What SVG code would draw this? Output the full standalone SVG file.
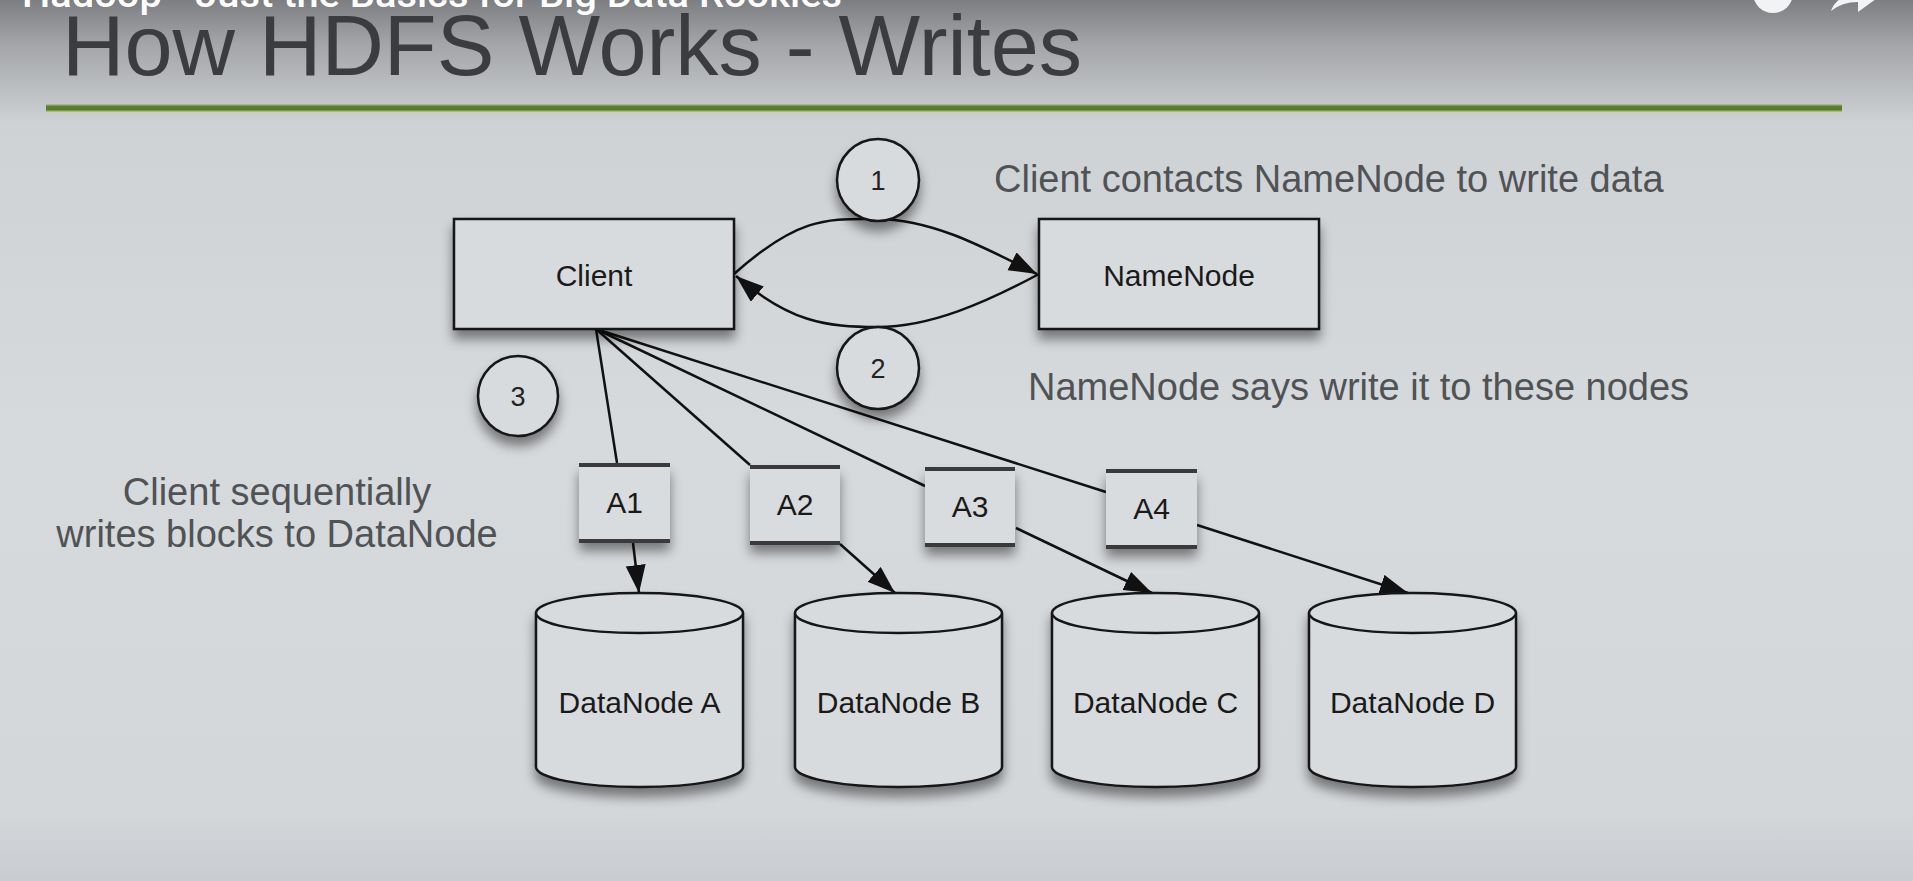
<svg xmlns="http://www.w3.org/2000/svg" width="1913" height="881" viewBox="0 0 1913 881">
<defs>
<linearGradient id="bg" x1="0" y1="0" x2="0" y2="1">
<stop offset="0" stop-color="#7c7e81"/>
<stop offset="0.05" stop-color="#a3a5a8"/>
<stop offset="0.14" stop-color="#cfd2d5"/>
<stop offset="0.5" stop-color="#d7dadd"/>
<stop offset="0.92" stop-color="#d4d7da"/>
<stop offset="1" stop-color="#c9ccd0"/>
</linearGradient>
<linearGradient id="gl" x1="0" y1="0" x2="0" y2="1">
<stop offset="0" stop-color="#b9cc95"/>
<stop offset="0.3" stop-color="#5d7e2f"/>
<stop offset="0.7" stop-color="#5a7a2b"/>
<stop offset="1" stop-color="#b9cc95"/>
</linearGradient>
<filter id="sh" x="-30%" y="-30%" width="160%" height="190%">
<feDropShadow dx="0" dy="9" stdDeviation="6" flood-color="#000" flood-opacity="0.45"/>
</filter>
<marker id="ah" markerUnits="userSpaceOnUse" markerWidth="30" markerHeight="22" refX="28" refY="10" orient="auto">
<path d="M0,0 L28,10 L0,20 Z" fill="#111"/>
</marker>
<style>
.node{fill:#d8dbde;stroke:#151515;stroke-width:2.5}
.blk{fill:#d9dcdf}
.bar{stroke:#3a3a3a;stroke-width:4}
.lbl{font-family:"Liberation Sans",Arial,Helvetica,sans-serif;font-size:30px;fill:#1a1a1a;text-anchor:middle}
.num{font-family:"Liberation Sans",Arial,Helvetica,sans-serif;font-size:27px;fill:#222;text-anchor:middle}
.note{font-family:"Liberation Sans",Arial,Helvetica,sans-serif;font-size:38px;fill:#505356}
.edge{fill:none;stroke:#111;stroke-width:2.5}
</style>
</defs>
<rect x="0" y="0" width="1913" height="881" fill="url(#bg)"/>
<text x="22" y="7" font-family="Roboto,'Liberation Sans',Arial,sans-serif" font-size="36" font-weight="500" fill="#ffffff" textLength="820" lengthAdjust="spacingAndGlyphs">Hadoop - Just the Basics for Big Data Rookies</text>
<circle cx="1773" cy="-7" r="20" fill="#f2f3f4"/>
<path d="M1831,11 Q1836,-4 1856,-6 L1856,-18 L1880,-4 L1858,12 L1858,2 Q1842,2 1831,11 Z" fill="#f2f3f4"/>
<text x="62" y="75" font-family="'Liberation Sans',Arial,Helvetica,sans-serif" font-size="85" fill="#3a3c3f" textLength="1020" lengthAdjust="spacingAndGlyphs">How HDFS Works - Writes</text>
<rect x="46" y="104" width="1796" height="8" fill="url(#gl)"/>

<g id="connectors">
<path class="edge" d="M734,274 C800,215 830,219 876,219 C930,219 980,245 1037,274" marker-end="url(#ah)"/>
<path class="edge" d="M1039,274 C985,303 930,327 878,327 C825,327 790,322 736,276" marker-end="url(#ah)"/>
<line class="edge" x1="596" y1="329" x2="617" y2="463"/>
<line class="edge" x1="596" y1="329" x2="750" y2="465"/>
<line class="edge" x1="596" y1="329" x2="925" y2="486"/>
<line class="edge" x1="596" y1="329" x2="1106" y2="492"/>
<line class="edge" x1="633" y1="543" x2="639" y2="593" marker-end="url(#ah)"/>
<line class="edge" x1="840" y1="544" x2="895" y2="593" marker-end="url(#ah)"/>
<line class="edge" x1="1016" y1="528" x2="1152" y2="593" marker-end="url(#ah)"/>
<line class="edge" x1="1197" y1="525" x2="1408" y2="593" marker-end="url(#ah)"/>
</g>

<g id="client">
<rect class="node" x="454" y="219" width="280" height="110" filter="url(#sh)"/>
<text class="lbl" x="594" y="286">Client</text>
</g>
<g id="namenode">
<rect class="node" x="1039" y="219" width="280" height="110" filter="url(#sh)"/>
<text class="lbl" x="1179" y="286">NameNode</text>
</g>

<g id="step1">
<circle class="node" cx="878" cy="180" r="41" filter="url(#sh)"/>
<text class="num" x="878" y="190">1</text>
</g>
<g id="step2">
<circle class="node" cx="878" cy="368" r="41" filter="url(#sh)"/>
<text class="num" x="878" y="378">2</text>
</g>
<g id="step3">
<circle class="node" cx="518" cy="396" r="40" filter="url(#sh)"/>
<text class="num" x="518" y="406">3</text>
</g>

<g id="note1"><text class="note" x="994" y="192">Client contacts NameNode to write data</text></g>
<g id="note2"><text class="note" x="1028" y="400">NameNode says write it to these nodes</text></g>
<g id="note3"><text class="note" x="277" y="505" text-anchor="middle">Client sequentially</text><text class="note" x="277" y="547" text-anchor="middle">writes blocks to DataNode</text></g>

<g id="a1">
<rect class="blk" x="579" y="464" width="91" height="78" filter="url(#sh)"/>
<line class="bar" x1="579" y1="465" x2="670" y2="465"/><line class="bar" x1="579" y1="541" x2="670" y2="541"/>
<text class="lbl" x="624.5" y="513" font-size="28">A1</text>
</g>
<g id="a2">
<rect class="blk" x="750" y="466" width="90" height="78" filter="url(#sh)"/>
<line class="bar" x1="750" y1="467" x2="840" y2="467"/><line class="bar" x1="750" y1="543" x2="840" y2="543"/>
<text class="lbl" x="795" y="515" font-size="28">A2</text>
</g>
<g id="a3">
<rect class="blk" x="925" y="468" width="90" height="78" filter="url(#sh)"/>
<line class="bar" x1="925" y1="469" x2="1015" y2="469"/><line class="bar" x1="925" y1="545" x2="1015" y2="545"/>
<text class="lbl" x="970" y="517" font-size="28">A3</text>
</g>
<g id="a4">
<rect class="blk" x="1106" y="470" width="91" height="78" filter="url(#sh)"/>
<line class="bar" x1="1106" y1="471" x2="1197" y2="471"/><line class="bar" x1="1106" y1="547" x2="1197" y2="547"/>
<text class="lbl" x="1151.5" y="519" font-size="28">A4</text>
</g>

<g id="datanode-a">
<g filter="url(#sh)">
<path class="node" d="M536,613 V767 A103.5,20 0 0 0 743,767 V613"/>
<ellipse class="node" cx="639.5" cy="613" rx="103.5" ry="20"/>
</g>
<text class="lbl" x="639.5" y="713">DataNode A</text>
</g>
<g id="datanode-b">
<g filter="url(#sh)">
<path class="node" d="M795,613 V767 A103.5,20 0 0 0 1002,767 V613"/>
<ellipse class="node" cx="898.5" cy="613" rx="103.5" ry="20"/>
</g>
<text class="lbl" x="898.5" y="713">DataNode B</text>
</g>
<g id="datanode-c">
<g filter="url(#sh)">
<path class="node" d="M1052,613 V767 A103.5,20 0 0 0 1259,767 V613"/>
<ellipse class="node" cx="1155.5" cy="613" rx="103.5" ry="20"/>
</g>
<text class="lbl" x="1155.5" y="713">DataNode C</text>
</g>
<g id="datanode-d">
<g filter="url(#sh)">
<path class="node" d="M1309,613 V767 A103.5,20 0 0 0 1516,767 V613"/>
<ellipse class="node" cx="1412.5" cy="613" rx="103.5" ry="20"/>
</g>
<text class="lbl" x="1412.5" y="713">DataNode D</text>
</g>
</svg>
